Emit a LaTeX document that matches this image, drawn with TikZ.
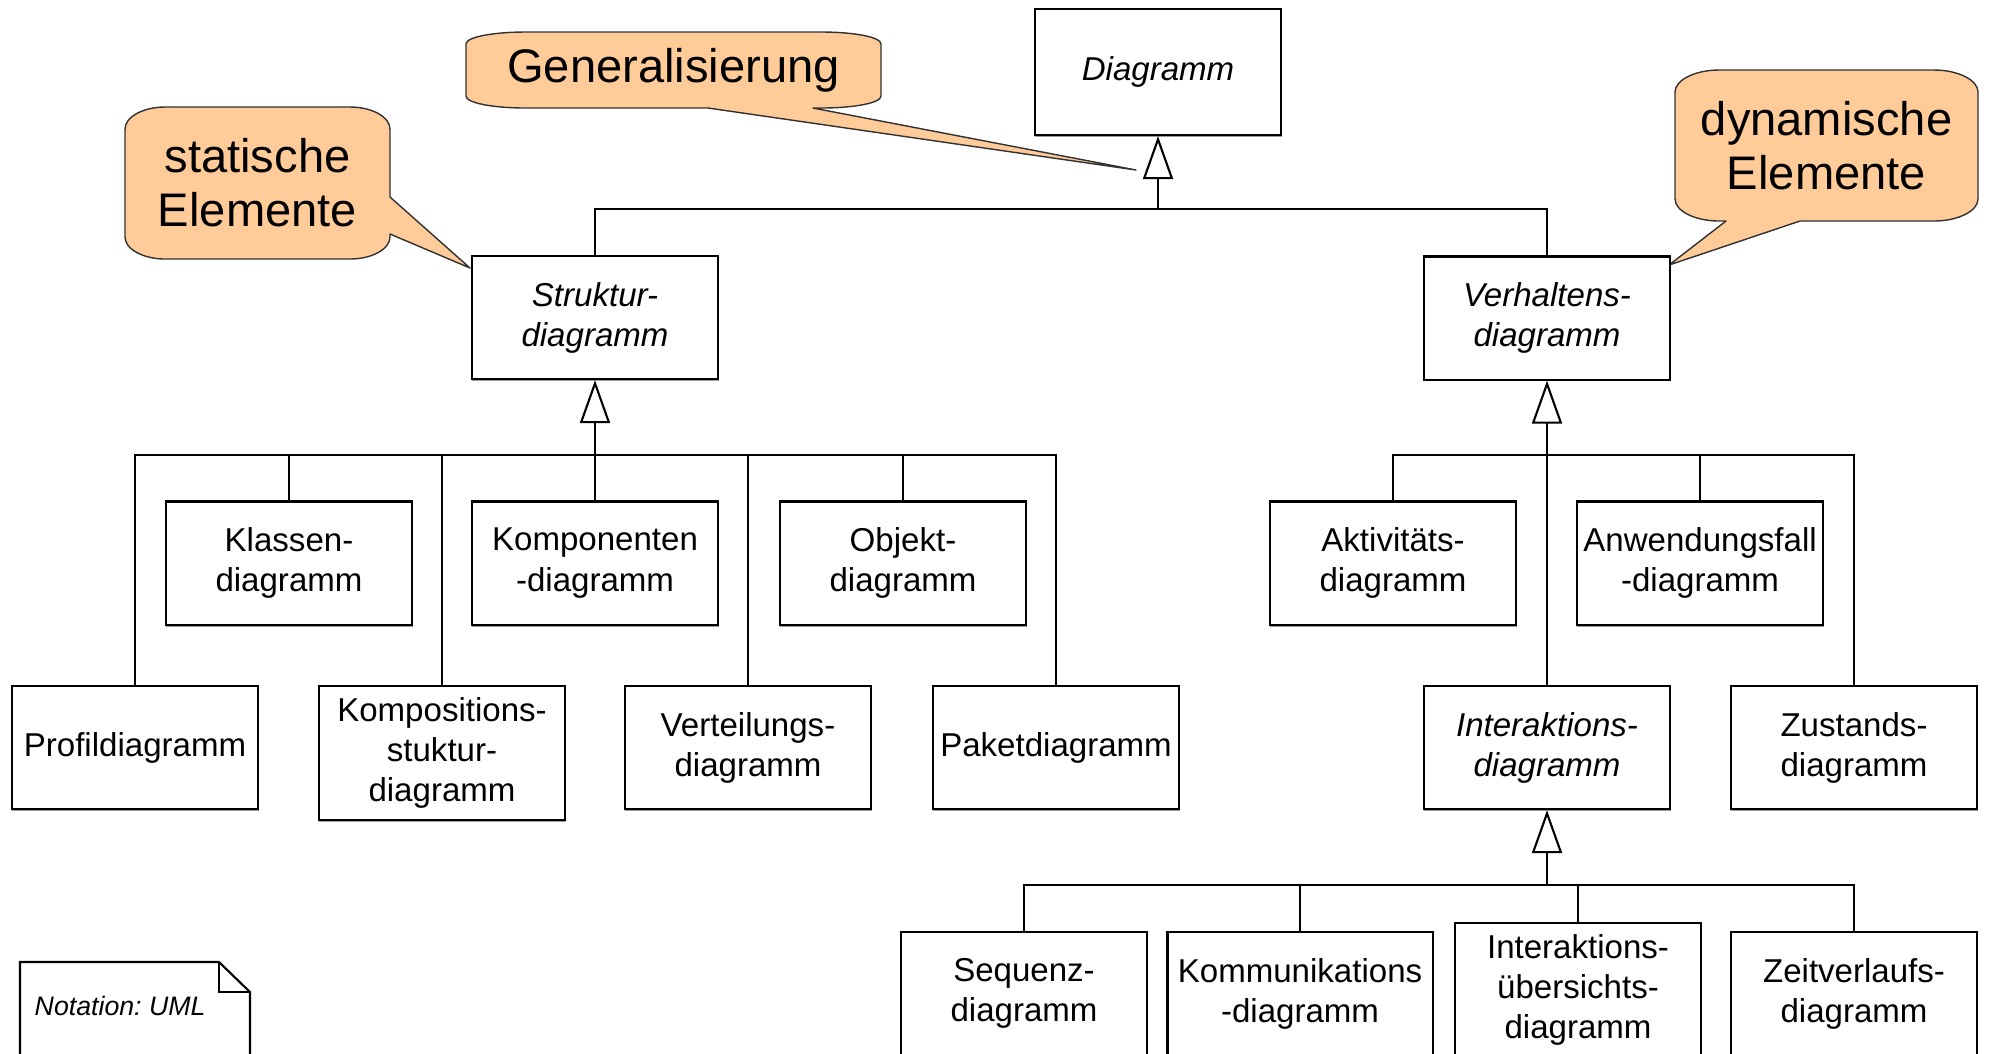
\documentclass[tikz,border=0pt]{standalone}
\usepackage{fontspec}
\setmainfont{Liberation Sans}
\usetikzlibrary{arrows.meta,shadows}
\definecolor{calloutfill}{RGB}{255,204,153}
\definecolor{calloutline}{RGB}{50,50,50}
\newcommand\boxfont{\fontsize{9.4}{11.4}\selectfont}
\newcommand\calloutfont{\fontsize{13.4}{15.3}\selectfont}
\newcommand\notefont{\fontsize{7.6}{9}\selectfont\itshape}
\frenchspacing

\begin{document}
\begin{tikzpicture}[x=0.01cm,y=-0.01cm,
  umlbox/.style={draw=black, line width=0.6pt, fill=white,
    minimum width=2.46cm, minimum height=1.23cm, inner sep=0pt,
    align=center, font=\boxfont,
    drop shadow={shadow xshift=0.15pt, shadow yshift=-0.55pt, fill=black!55, opacity=0.7}},
  abstractbox/.style={umlbox, font=\boxfont\itshape},
  link/.style={draw=black, line width=0.6pt},
  gen/.style={link, -{Triangle[open, length=0.43cm, width=0.30cm]}},
  callout/.style={draw=calloutline, line width=0.4pt, fill=calloutfill, line join=round},
  callouttext/.style={font=\calloutfont, align=center, inner sep=0pt}
]
\useasboundingbox (0,0) rectangle (1989,1053);
\clip (0,0) rectangle (1989,1053);

% ---- callouts ----
\path[callout] (526,32) -- (821,32) .. controls (854,32) and (881,37) .. (881,44)
  -- (881,96) .. controls (881,103) and (854,108) .. (821,108)
  -- (813,108) -- (1136,170) -- (708,108) -- (526,108)
  .. controls (493,108) and (466,103) .. (466,96)
  -- (466,44) .. controls (466,37) and (493,32) .. (526,32) -- cycle;
\node[callouttext] (tGeneral) at (673.5,70) {Generalisierung};

\path[callout] (165,107) -- (350,107) .. controls (372,107) and (390,117) .. (390,129)
  -- (390,197) -- (470,268) -- (390,234) -- (390,237)
  .. controls (390,249) and (372,259) .. (350,259)
  -- (165,259) .. controls (143,259) and (125,249) .. (125,237)
  -- (125,129) .. controls (125,117) and (143,107) .. (165,107) -- cycle;
\node[callouttext] (tStatisch) at (257.5,183) {statische\\Elemente};

\path[callout] (1719,70) -- (1934,70) .. controls (1958,70) and (1978,80) .. (1978,92)
  -- (1978,199) .. controls (1978,211) and (1958,221) .. (1934,221)
  -- (1800,221) -- (1669,265) -- (1726,221) -- (1719,221)
  .. controls (1695,221) and (1675,211) .. (1675,199)
  -- (1675,92) .. controls (1675,80) and (1695,70) .. (1719,70) -- cycle;
\node[callouttext] (tDynamisch) at (1826.5,146) {dynamische\\Elemente};

% ---- classes ----
\node[abstractbox, minimum height=1.26cm] (diagramm) at (1158,72) {Diagramm};
\node[abstractbox] (struktur) at (595,317.5) {Struktur-\\diagramm};
\node[abstractbox] (verhalten) at (1547,318) {Verhaltens-\\diagramm};

\node[umlbox] (klassen) at (289,563) {Klassen-\\diagramm};
\node[umlbox] (komponenten) at (595,563) {Komponenten\\-diagramm};
\node[umlbox] (objekt) at (903,563) {Objekt-\\diagramm};
\node[umlbox] (profil) at (135,747.5) {Profildiagramm};
\node[umlbox, minimum height=1.34cm] (komposition) at (442,753) {Kompositions-\\stuktur-\\diagramm};
\node[umlbox] (verteilung) at (748,747.5) {Verteilungs-\\diagramm};
\node[umlbox] (paket) at (1056,747.5) {Paketdiagramm};

\node[umlbox] (aktivitaet) at (1393,563) {Aktivitäts-\\diagramm};
\node[umlbox] (anwendung) at (1700,563) {Anwendungsfall\\-diagramm};
\node[abstractbox] (interaktion) at (1547,747.5) {Interaktions-\\diagramm};
\node[umlbox] (zustand) at (1854,747.5) {Zustands-\\diagramm};

\node[umlbox] (sequenz) at (1024,993.5) {Sequenz-\\diagramm};
\node[umlbox, minimum width=2.65cm] (kommunikation) at (1300,993.5) {Kommunikations\\-diagramm};
\node[umlbox, minimum height=1.34cm] (uebersicht) at (1578,990) {Interaktions-\\übersichts-\\diagramm};
\node[umlbox] (zeitverlauf) at (1854,993.5) {Zeitverlaufs-\\diagramm};

% ---- generalisation trees ----
\coordinate (jTop) at (1158,209);
\coordinate (jStruktur) at (595,455);
\coordinate (jVerhalten) at (1547,455);
\coordinate (jInteraktion) at (1547,885);

\draw[link] (struktur.north) |- (jTop);
\draw[link] (verhalten.north) |- (jTop);
\draw[gen] (jTop) -- (diagramm.south);

\draw[link] (profil.north) |- (jStruktur);
\draw[link] (klassen.north) |- (jStruktur);
\draw[link] (komposition.north) |- (jStruktur);
\draw[link] (komponenten.north) -- (jStruktur);
\draw[link] (verteilung.north) |- (jStruktur);
\draw[link] (objekt.north) |- (jStruktur);
\draw[link] (paket.north) |- (jStruktur);
\draw[gen] (jStruktur) -- (struktur.south);

\draw[link] (aktivitaet.north) |- (jVerhalten);
\draw[link] (interaktion.north) -- (jVerhalten);
\draw[link] (anwendung.north) |- (jVerhalten);
\draw[link] (zustand.north) |- (jVerhalten);
\draw[gen] (jVerhalten) -- (verhalten.south);

\draw[link] (sequenz.north) |- (jInteraktion);
\draw[link] (kommunikation.north) |- (jInteraktion);
\draw[link] (uebersicht.north) |- (jInteraktion);
\draw[link] (zeitverlauf.north) |- (jInteraktion);
\draw[gen] (jInteraktion) -- (interaktion.south);

% ---- note ----
\draw[line width=0.6pt, fill=white, line join=miter] (20,962) -- (219,962) -- (250,992) -- (250,1080) -- (20,1080) -- cycle;
\draw[line width=0.6pt] (219,962) -- (219,992) -- (250,992);
\node[font=\notefont, anchor=base west, inner sep=0pt] (notation) at (34,1015) {Notation: UML};
\end{tikzpicture}
\end{document}
